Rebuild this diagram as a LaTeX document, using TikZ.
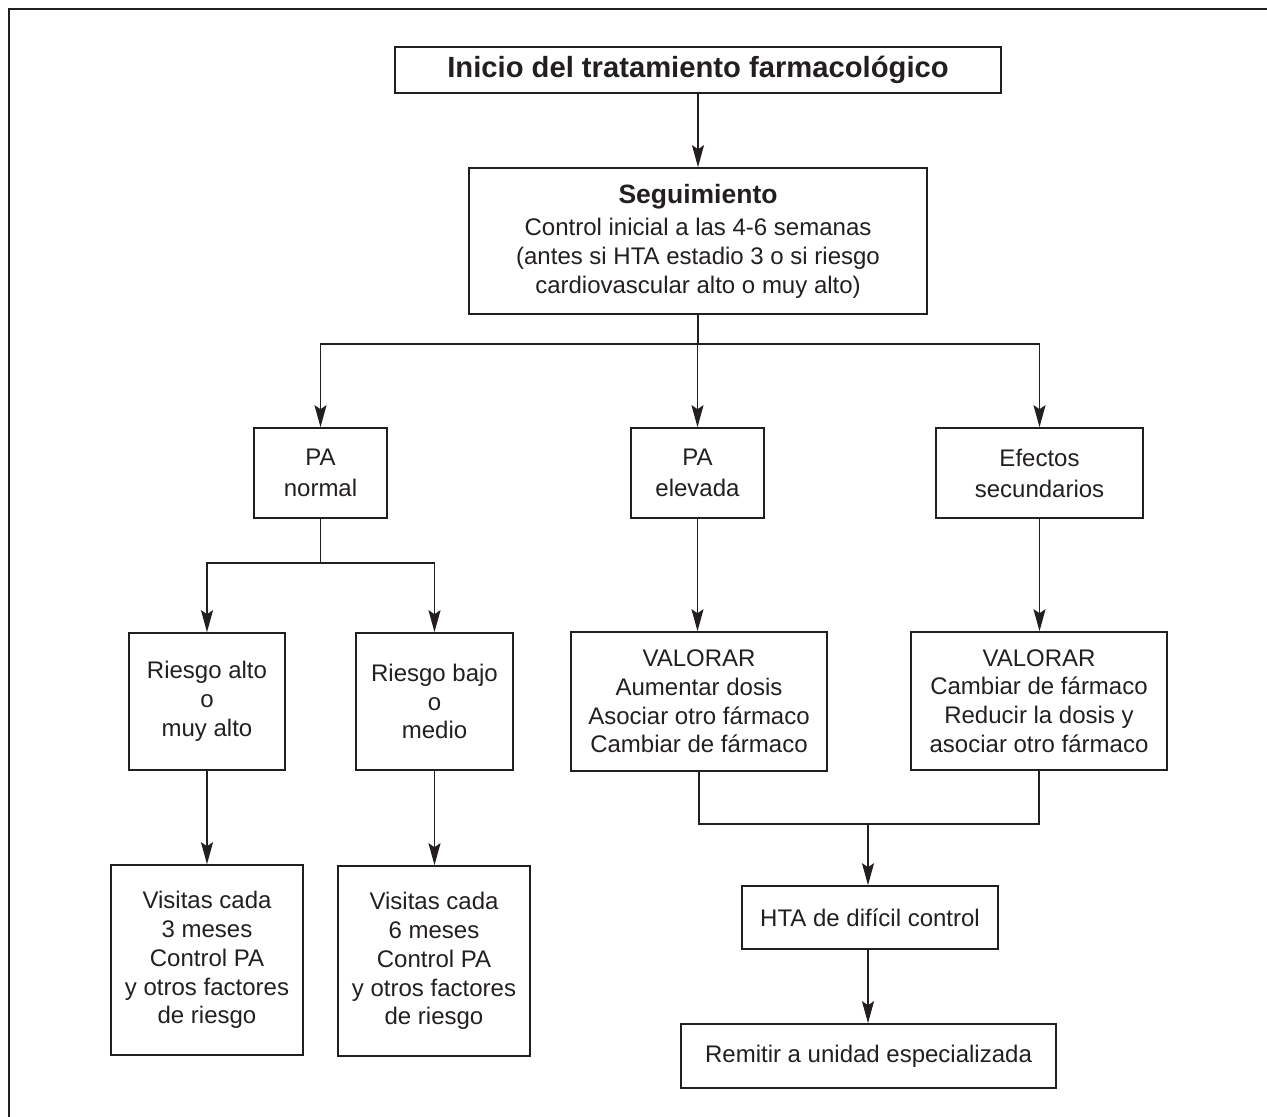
\documentclass[tikz,border=0pt]{standalone}
\usepackage{fontspec}
\setmainfont{Liberation Sans}
\usetikzlibrary{arrows.meta}
\definecolor{ink}{RGB}{35,31,32}
\begin{document}
\begin{tikzpicture}[x=0.5pt,y=-0.5pt,
  box/.style={draw=ink, line width=0.8pt, text=ink, inner sep=0pt, align=center, font=\fontsize{12}{14.4}\selectfont},
  pabox/.style={box, font=\fontsize{12}{15.5}\selectfont},
  arr/.style={draw=ink, line width=0.8pt, -{Stealth[length=11pt,width=6pt,inset=2pt]}},
  ln/.style={draw=ink, line width=0.8pt}]
\useasboundingbox (0,0) rectangle (1267,1117);
\draw[ln] (9,1117) -- (9,9) -- (1267,9);

\node[box, minimum width=303pt, minimum height=23pt, font=\fontsize{14.6}{17}\selectfont\bfseries] (title) at (698,70) {Inicio del tratamiento farmacológico};
\node[box, minimum width=229pt, minimum height=73pt, font=\fontsize{12}{14.5}\selectfont] (seg) at (698,241)
  {{\fontsize{13.25}{15}\selectfont\bfseries Seguimiento}\\[1.5pt] Control inicial a las 4-6 semanas\\ (antes si HTA estadio 3 o si riesgo\\ cardiovascular alto o muy alto)};

\node[pabox, minimum width=66.5pt, minimum height=45pt] (pan) at (320.5,473) {PA\\normal};
\node[pabox, minimum width=66.5pt, minimum height=45pt] (pae) at (697.5,473) {PA\\elevada};
\node[pabox, minimum width=103.5pt, minimum height=45pt] (efe) at (1039.5,473) {Efectos\\secundarios};

\node[box, minimum width=78pt, minimum height=68.5pt] (ralto) at (207,701.5) {Riesgo alto\\o\\muy alto};
\node[box, minimum width=78.5pt, minimum height=68.5pt] (rbajo) at (434.5,701.5) {Riesgo bajo\\o\\medio};
\node[box, minimum width=128pt, minimum height=69.5pt] (val1) at (699,701.5) {VALORAR\\Aumentar dosis\\Asociar otro fármaco\\Cambiar de fármaco};
\node[box, minimum width=128pt, minimum height=69pt] (val2) at (1039,701) {VALORAR\\Cambiar de fármaco\\Reducir la dosis y\\asociar otro fármaco};

\node[box, minimum width=96pt, minimum height=95pt] (vis3) at (207,960) {Visitas cada\\3 meses\\Control PA\\y otros factores\\de riesgo};
\node[box, minimum width=96pt, minimum height=95pt] (vis6) at (434,961) {Visitas cada\\6 meses\\Control PA\\y otros factores\\de riesgo};

\node[box, minimum width=128pt, minimum height=31.5pt] (hta) at (870,917.5) {HTA de difícil control};
\node[box, minimum width=187.5pt, minimum height=32pt] (rem) at (868.5,1056) {Remitir a unidad especializada};

\coordinate (hbar) at (698,344);
\coordinate (split) at (320.5,563);
\coordinate (join) at (868,824);

\draw[arr] (title.south) -- (seg.north);
\draw[ln] (seg.south) -- (hbar);
\draw[arr] (hbar) -| (pan.north);
\draw[arr] (hbar) -| (efe.north);
\draw[arr] (pae.north |- hbar) -- (pae.north);
\draw[ln] (pan.south) -- (split);
\draw[arr] (split) -| (ralto.north);
\draw[arr] (split) -| (rbajo.north);
\draw[arr] (pae.south) -- (pae.south |- val1.north);
\draw[arr] (efe.south) -- (efe.south |- val2.north);
\draw[arr] (ralto.south) -- (ralto.south |- vis3.north);
\draw[arr] (rbajo.south) -- (rbajo.south |- vis6.north);
\draw[ln] (val1.south) |- (join) -| (val2.south);
\draw[arr] (join) -- (join |- hta.north);
\draw[arr] (join |- hta.south) -- (join |- rem.north);
\end{tikzpicture}
\end{document}
